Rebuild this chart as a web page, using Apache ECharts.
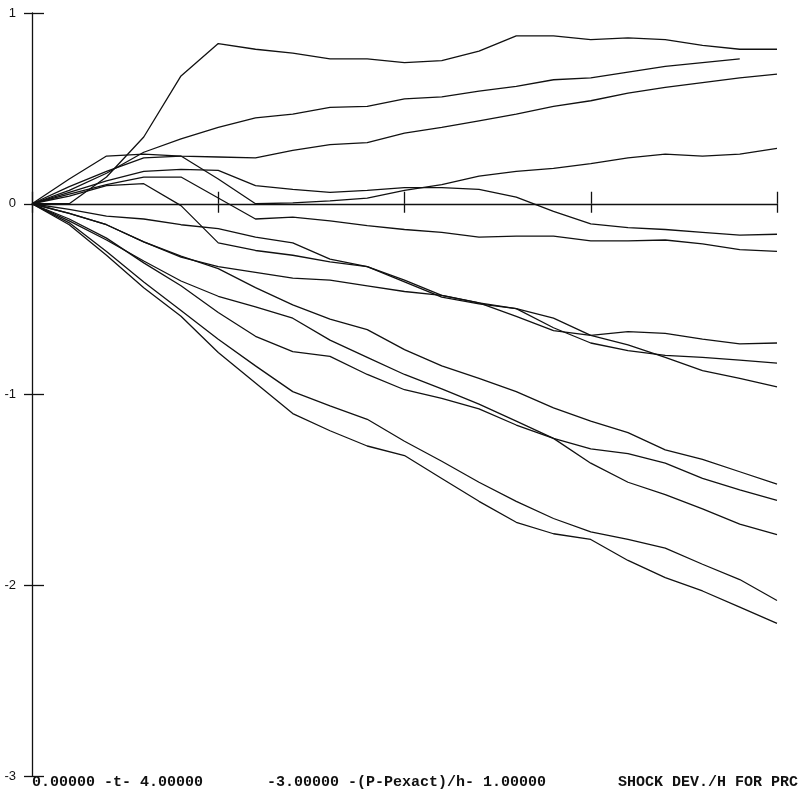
<!DOCTYPE html>
<html>
<head>
<meta charset="utf-8">
<script src="https://cdn.jsdelivr.net/npm/echarts@6.0.0/dist/echarts.min.js"></script>
<style>
html,body{margin:0;padding:0;background:#fff;}
#chart{width:808px;height:797px;}
</style>
</head>
<body>
<div id="chart"></div>
<script>
// time samples t = 0 .. 4 step 0.2
const tValues = [0,0.2,0.4,0.6,0.8,1.0,1.2,1.4,1.6,1.8,2.0,2.2,2.4,2.6,2.8,3.0,3.2,3.4,3.6,3.8,4.0];
const yTickLabels = ['-3','-2','-1','0','1'];
const bottomLeftText = '0.00000 -t- 4.00000';
const bottomMidText = '-3.00000 -(P-Pexact)/h- 1.00000';
const bottomRightText = 'SHOCK DEV./H FOR PRC';

const curveA = [0,0.0,0.14,0.35,0.67,0.84,0.81,0.79,0.76,0.76,0.74,0.75,0.80,0.88,0.88,0.86,0.87,0.86,0.83,0.81,0.81];
const curveB = [0,0.07,0.16,0.27,0.34,0.40,0.45,0.47,0.505,0.51,0.55,0.56,0.59,0.615,0.65,0.66,0.69,0.72,0.74,0.76,null];
const curveC = [0,0.13,0.25,0.26,0.25,0.245,0.24,0.28,0.31,0.32,0.37,0.40,0.435,0.47,0.51,0.54,0.58,0.61,0.635,0.66,0.68];
const curveG = [0,0.09,0.17,0.24,0.25,0.13,0.0,0.005,0.015,0.03,0.07,0.10,0.145,0.17,0.185,0.21,0.24,0.26,0.25,0.26,0.29];
const curveF = [0,0.06,0.12,0.17,0.18,0.175,0.095,0.075,0.06,0.07,0.085,0.085,0.075,0.035,-0.04,-0.105,-0.125,-0.135,-0.15,-0.165,-0.16];
const curveE = [0,0.05,0.10,0.14,0.14,0.03,-0.08,-0.07,-0.09,-0.115,-0.135,-0.15,-0.175,-0.17,-0.17,-0.195,-0.195,-0.19,-0.21,-0.24,-0.25];
const curveM1 = [0,-0.03,-0.065,-0.08,-0.11,-0.13,-0.175,-0.205,-0.29,-0.33,-0.41,-0.49,-0.525,-0.55,-0.60,-0.69,-0.67,-0.68,-0.71,-0.735,-0.73];
const curveH = [0,0.04,0.095,0.105,-0.01,-0.205,-0.245,-0.27,-0.305,-0.33,-0.40,-0.48,-0.52,-0.55,-0.65,-0.73,-0.77,-0.795,-0.805,-0.82,-0.835];
const curveM3 = [0,-0.05,-0.11,-0.2,-0.28,-0.33,-0.36,-0.39,-0.40,-0.43,-0.46,-0.48,-0.52,-0.59,-0.665,-0.69,-0.74,-0.805,-0.875,-0.915,-0.96];
const curveL4 = [0,-0.05,-0.11,-0.2,-0.275,-0.34,-0.44,-0.53,-0.605,-0.66,-0.765,-0.85,-0.915,-0.985,-1.07,-1.14,-1.20,-1.29,-1.34,-1.405,-1.47];
const curveN = [0,-0.09,-0.19,-0.30,-0.405,-0.485,-0.54,-0.60,-0.715,-0.805,-0.895,-0.97,-1.05,-1.14,-1.23,-1.36,-1.46,-1.525,-1.60,-1.68,-1.735];
const curveO = [0,-0.08,-0.18,-0.31,-0.43,-0.57,-0.695,-0.775,-0.80,-0.895,-0.975,-1.02,-1.075,-1.16,-1.23,-1.285,-1.31,-1.36,-1.44,-1.50,-1.555];
const curveX = [0,-0.1,-0.25,-0.41,-0.56,-0.71,-0.85,-0.985,-1.06,-1.13,-1.245,-1.35,-1.46,-1.56,-1.65,-1.72,-1.76,-1.805,-1.89,-1.97,-2.08];
const curveY = [0,-0.11,-0.27,-0.44,-0.59,-0.78,-0.94,-1.10,-1.19,-1.27,-1.32,-1.44,-1.56,-1.67,-1.73,-1.76,-1.87,-1.96,-2.03,-2.115,-2.2];

const curves = [curveA,curveB,curveC,curveG,curveF,curveE,curveM1,curveH,curveM3,curveL4,curveN,curveO,curveX,curveY];

const ink = '#111';
const chart = echarts.init(document.getElementById('chart'), null, {renderer:'canvas'});

const series = curves.map(function(c){
  return {
    type:'line',
    data: tValues.map(function(t,i){ return [t, c[i]]; }),
    showSymbol:false,
    symbol:'none',
    lineStyle:{color:ink, width:1.3},
    silent:true,
    z:3
  };
});

const option = {
  animation:false,
  backgroundColor:'#fff',
  grid:{left:32, right:31, top:13, bottom:21, containLabel:false},
  xAxis:[
    {type:'value', min:0, max:4, interval:1, position:'bottom',
     axisLine:{show:true, onZero:true, lineStyle:{color:ink, width:1.3}},
     axisTick:{show:true, length:9, lineStyle:{color:ink, width:1.3}},
     axisLabel:{show:false}, splitLine:{show:false}},
    {type:'value', min:0, max:4, interval:1, position:'bottom',
     axisLine:{show:false, onZero:true},
     axisTick:{show:true, inside:true, length:12, lineStyle:{color:ink, width:1.3}},
     axisLabel:{show:false}, splitLine:{show:false}}
  ],
  yAxis:[
    {type:'value', min:-3, max:1, interval:1, position:'left',
     axisLine:{show:true, onZero:false, lineStyle:{color:ink, width:1.3}},
     axisTick:{show:true, length:8, lineStyle:{color:ink, width:1.3}},
     axisLabel:{show:true, margin:16, color:ink, fontSize:13, fontFamily:'Liberation Sans',
       formatter:function(v){ var i = Math.round(v) + 3; return yTickLabels[i]; }},
     splitLine:{show:false}},
    {type:'value', min:-3, max:1, interval:1, position:'left',
     axisLine:{show:false, onZero:false},
     axisTick:{show:true, inside:true, length:12, lineStyle:{color:ink, width:1.3}},
     axisLabel:{show:false}, splitLine:{show:false}}
  ],
  series: series,
  graphic:[
    {type:'text', left:32, top:775, style:{text:bottomLeftText, font:'bold 15px "Liberation Mono"', fill:ink}},
    {type:'text', left:267, top:775, style:{text:bottomMidText, font:'bold 15px "Liberation Mono"', fill:ink}},
    {type:'text', left:618, top:775, style:{text:bottomRightText, font:'bold 15px "Liberation Mono"', fill:ink}}
  ]
};
chart.setOption(option);
</script>
</body>
</html>
